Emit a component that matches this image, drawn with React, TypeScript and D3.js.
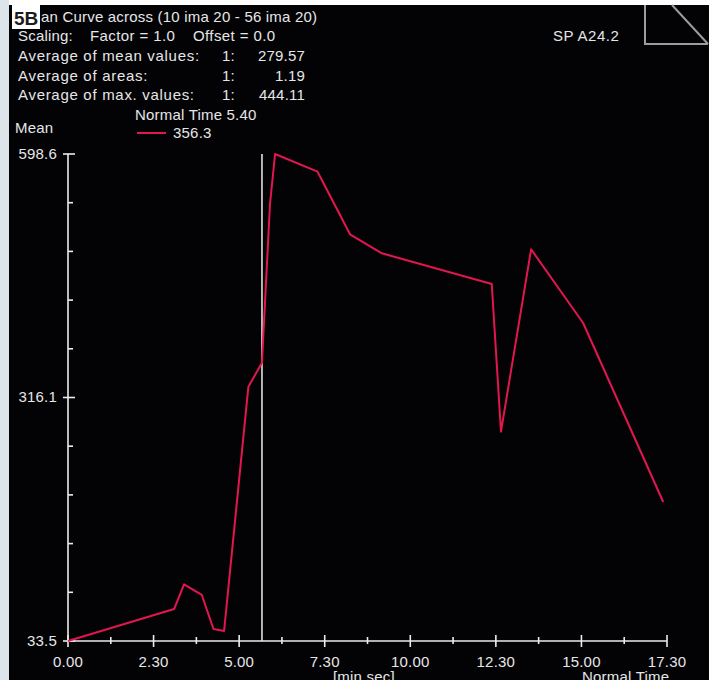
import React, { useEffect, useRef } from "react";
import * as d3 from "d3";

// time in minutes (axis shows min.sec), mean value
const times = [0, 3.1, 3.39, 3.91, 4.25, 4.56, 5.27, 5.667, 5.9, 6.05, 7.29, 8.24, 9.17, 12.38, 12.65, 13.53, 15.05, 17.39];
const means = [33.5, 70.6, 99.3, 86.9, 47.4, 45.1, 328.6, 356.3, 540.0, 598.6, 578.1, 505.4, 483.4, 447.8, 276.4, 488.0, 402.5, 194.8];

const xTicks = [0, 2.5, 5, 7.5, 10, 12.5, 15, 17.5];
const yTicks = [33.5, 316.1, 598.6];
const normalTime = 5.667;
const normalValue = 356.3;

const headerRows = [
  { label: "Average of mean values:", idx: "1:", value: "279.57" },
  { label: "Average of areas:", idx: "1:", value: "1.19" },
  { label: "Average of max. values:", idx: "1:", value: "444.11" },
];

const FONT = "'Liberation Sans', Arial, sans-serif";
const TXT = "#e6e6e6";
const RED = "#e3164f";

const fmtMinSec = (t: number) => {
  const m = Math.floor(t);
  const s = Math.round((t - m) * 60);
  return `${m}.${String(s).padStart(2, "0")}`;
};

const App = () => {
  const svgRef = useRef<SVGSVGElement>(null);

  useEffect(() => {
    const width = 716;
    const height = 680;
    const svg = d3.select(svgRef.current);
    svg.selectAll("*").remove();

    svg.append("rect").attr("width", width).attr("height", height).attr("fill", "#ffffff");
    svg.append("rect").attr("width", 9).attr("height", height).attr("fill", "#dde4ea");
    svg.append("rect").attr("x", 9).attr("y", 5).attr("width", 700).attr("height", height - 5).attr("fill", "#030306");

    const x = d3.scaleLinear().domain([0, 17.5]).range([68, 667]);
    const y = d3.scaleLinear().domain([33.5, 598.6]).range([641, 154]);

    const txt = (s: string, px: number, py: number, anchor = "start", spacing = 0.2) =>
      svg
        .append("text")
        .attr("x", px)
        .attr("y", py)
        .attr("text-anchor", anchor)
        .attr("fill", TXT)
        .style("font-family", FONT)
        .style("font-size", "15px")
        .style("letter-spacing", `${spacing}px`)
        .text(s);

    // header text (start of the title sits under the 5B label)
    txt("an Curve across (10 ima 20 - 56 ima 20)", 41, 22);
    txt("Scaling:", 18, 41);
    txt("Factor = 1.0", 90, 41, "start", 0.4);
    txt("Offset = 0.0", 193, 41, "start", 0.4);
    headerRows.forEach((r, i) => {
      const py = 61 + i * 19.5;
      txt(r.label, 18, py, "start", 0.7);
      txt(r.idx, 222, py);
      txt(r.value, 305, py, "end");
    });
    txt(`Normal Time ${fmtMinSec(normalTime)}`, 135, 120);
    txt("Mean", 15, 133);
    svg.append("line").attr("x1", 137).attr("x2", 166).attr("y1", 133).attr("y2", 133)
      .attr("stroke", RED).attr("stroke-width", 2);
    txt(normalValue.toFixed(1), 173, 138);
    txt("SP A24.2", 553, 41, "start", 0.5);

    // top-right decoration
    const deco = svg.append("g").attr("stroke", "#9c9c9c").attr("stroke-width", 2).attr("fill", "none");
    deco.append("path").attr("d", "M645,5 V44 H708");
    deco.append("path").attr("d", "M672,5 L708,44");

    // "5B" label
    svg.append("rect").attr("x", 12).attr("y", 4).attr("width", 28).attr("height", 25).attr("fill", "#ffffff");
    svg.append("text").attr("x", 14).attr("y", 25).attr("fill", "#1c1c1c")
      .style("font-family", FONT).style("font-size", "19px").style("font-weight", "bold").text("5B");

    // axes
    const axisCol = "#ececec";
    const g = svg.append("g").attr("stroke", axisCol).attr("stroke-width", 1.6);
    g.append("line").attr("x1", x(0)).attr("x2", x(0)).attr("y1", y(598.6)).attr("y2", y(33.5));
    g.append("line").attr("x1", x(0)).attr("x2", x(17.5)).attr("y1", y(33.5)).attr("y2", y(33.5));

    const [y0, y1] = y.domain();
    d3.range(11).forEach((i) => {
      const v = y0 + ((y1 - y0) * i) / 10;
      const major = i % 5 === 0;
      g.append("line").attr("x1", x(0) - (major ? 5 : 0)).attr("x2", x(0) + (major ? 7 : 5))
        .attr("y1", y(v)).attr("y2", y(v));
    });
    yTicks.forEach((v) => txt(v.toFixed(1), 57, y(v) + 5, "end"));

    xTicks.forEach((t, i) => {
      g.append("line").attr("x1", x(t)).attr("x2", x(t)).attr("y1", y(33.5) - 6).attr("y2", y(33.5) + 6);
      txt(fmtMinSec(t), x(t), 667, "middle");
      if (i < xTicks.length - 1) {
        const m = (t + xTicks[i + 1]) / 2;
        g.append("line").attr("x1", x(m)).attr("x2", x(m)).attr("y1", y(33.5) - 4).attr("y2", y(33.5) + 3);
      }
    });
    txt("[min.sec]", 333, 682);
    txt("Normal Time", 582, 682);

    // normal time marker
    svg.append("line").attr("x1", x(normalTime)).attr("x2", x(normalTime))
      .attr("y1", y(598.6)).attr("y2", y(33.5)).attr("stroke", "#e0e0e0").attr("stroke-width", 1.6);

    // curve
    const line = d3.line<number>().x((_, i) => x(times[i])).y((d) => y(d));
    svg.append("path").datum(means).attr("d", line).attr("fill", "none")
      .attr("stroke", RED).attr("stroke-width", 2).attr("stroke-linejoin", "round");
  }, []);

  return (
    <div style={{ position: "absolute", left: 0, top: 0 }}>
      <svg ref={svgRef} width={716} height={680} style={{ display: "block" }}></svg>
    </div>
  );
};

export default App;
